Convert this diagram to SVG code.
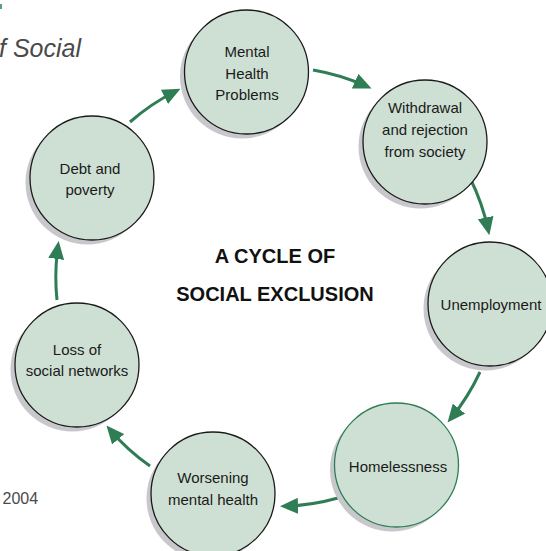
<svg xmlns="http://www.w3.org/2000/svg" width="546" height="551" viewBox="0 0 546 551">
<defs>
<style>
.shadow{fill:#c8c8cc;}
.node{fill:#cee0d4;stroke:#1a1a1a;stroke-width:1.3;}
.node.green{stroke:#2e7d55;}
.lbl{font-family:"Liberation Sans",Arial,sans-serif;font-size:15px;fill:#1a1a1a;text-anchor:middle;}
.title{font-family:"Liberation Sans",Arial,sans-serif;font-size:20px;font-weight:bold;fill:#111;text-anchor:middle;}
.side{font-family:"Liberation Sans",Arial,sans-serif;fill:#4a4a4a;}
.arrow{fill:none;stroke:#2e7d55;stroke-width:3;marker-end:url(#head);}
</style>
<marker id="head" viewBox="0 0 18 16" markerWidth="18" markerHeight="16" markerUnits="userSpaceOnUse" refX="13" refY="8" orient="auto">
<path d="M0,0 L18,8 L0,16 z" fill="#2e7d55"/>
</marker>
</defs>
<rect width="546" height="551" fill="#ffffff"/>
<rect x="0" y="4" width="2" height="5" fill="#5a9e80"/>
<text class="side" x="-1" y="57" font-size="25" font-style="italic">f Social</text>
<text class="side" x="2.5" y="504" font-size="16">2004</text>

<g id="connectors">
<path class="arrow" d="M130,122 A220,220 0 0 1 176,91"/>
<path class="arrow" d="M313,70 A220,220 0 0 1 367,86.5"/>
<path class="arrow" d="M470,178 A220,220 0 0 1 488.3,230.3"/>
<path class="arrow" d="M480,372 A220,220 0 0 1 450.7,418.7"/>
<path class="arrow" d="M338,498 A220,220 0 0 1 285,506.2"/>
<path class="arrow" d="M150,466 A220,220 0 0 1 109.7,429.4"/>
<path class="arrow" d="M57,300 A220,220 0 0 1 58,246"/>
</g>

<g id="mental-health-problems">
<circle class="shadow" cx="242" cy="76.5" r="62"/>
<circle class="node" cx="246.5" cy="72" r="62"/>
<text class="lbl" x="247" y="57">Mental</text>
<text class="lbl" x="247" y="79">Health</text>
<text class="lbl" x="247" y="100">Problems</text>
</g>

<g id="withdrawal">
<circle class="shadow" cx="420.5" cy="146.5" r="62"/>
<circle class="node" cx="425" cy="142" r="62"/>
<text class="lbl" x="425" y="113">Withdrawal</text>
<text class="lbl" x="425" y="135">and rejection</text>
<text class="lbl" x="425" y="157">from society</text>
</g>

<g id="unemployment">
<circle class="shadow" cx="485.5" cy="308.5" r="62"/>
<circle class="node" cx="490" cy="304" r="62"/>
<text class="lbl" x="491" y="310">Unemployment</text>
</g>

<g id="homelessness">
<circle class="shadow" cx="392" cy="469.5" r="62"/>
<circle class="node green" cx="396.5" cy="465" r="62"/>
<text class="lbl" x="398" y="472">Homelessness</text>
</g>

<g id="worsening-mental-health">
<circle class="shadow" cx="208.5" cy="498.5" r="62"/>
<circle class="node" cx="213" cy="494" r="62"/>
<text class="lbl" x="213" y="483">Worsening</text>
<text class="lbl" x="213" y="505">mental health</text>
</g>

<g id="loss-of-social-networks">
<circle class="shadow" cx="72.5" cy="369.5" r="62"/>
<circle class="node" cx="77" cy="365" r="62"/>
<text class="lbl" x="77" y="355">Loss of</text>
<text class="lbl" x="77" y="376">social networks</text>
</g>

<g id="debt-and-poverty">
<circle class="shadow" cx="87.5" cy="182.5" r="62"/>
<circle class="node" cx="92" cy="178" r="62"/>
<text class="lbl" x="90" y="174">Debt and</text>
<text class="lbl" x="90" y="195">poverty</text>
</g>

<g id="title">
<text class="title" x="275" y="263">A CYCLE OF</text>
<text class="title" x="275" y="301">SOCIAL EXCLUSION</text>
</g>
</svg>
